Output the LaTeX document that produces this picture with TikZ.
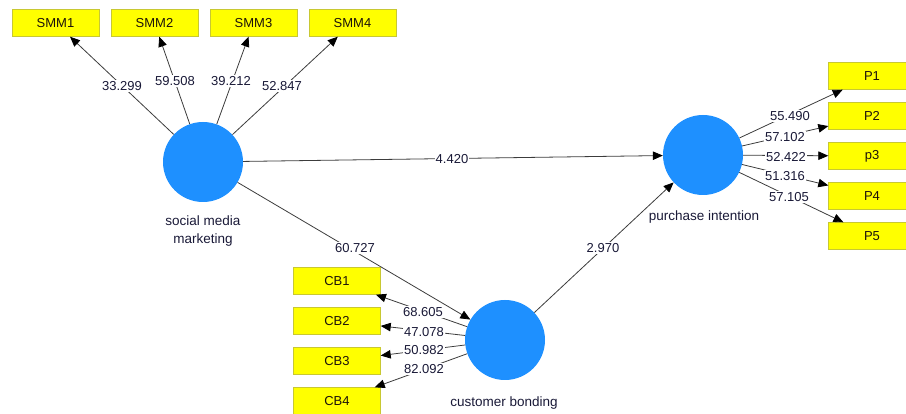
\documentclass[tikz,border=0pt]{standalone}
\usepackage{fontspec}
\setmainfont{Liberation Sans}
\usetikzlibrary{arrows.meta}
\definecolor{lvblue}{RGB}{30,144,255}
\definecolor{mvyellow}{RGB}{255,255,0}
\definecolor{mvborder}{RGB}{200,200,50}
\definecolor{pathgray}{RGB}{60,60,60}
\definecolor{valtext}{RGB}{25,25,55}

\begin{document}
\begin{tikzpicture}[x=1pt,y=-1pt,
    lv/.style={circle,fill=lvblue,minimum size=80pt,inner sep=0pt},
    mv/.style={rectangle,fill=mvyellow,draw=mvborder,minimum width=87pt,minimum height=27pt,inner sep=0pt,font=\fontsize{13}{16}\selectfont,text=black!85!brown},
    lvname/.style={align=center,font=\fontsize{13.5}{18}\selectfont,text=valtext},
    val/.style={fill=white,inner sep=1pt,font=\fontsize{13}{16}\selectfont,text=valtext},
    arr/.style={draw=pathgray,line width=0.8pt,-{Triangle[length=10pt,width=8.5pt,color=black]}}]
    \clip (0,0) rectangle (906,414);
    % latent variables
    \node[lv] (smm) at (203,162) {};
    \node[lv] (pi) at (703,155) {};
    \node[lv] (cb) at (505,340) {};
    \node[lvname] at (203,231) {social media\\marketing};
    \node[lvname] at (704,217) {purchase intention};
    \node[lvname] at (504,403) {customer bonding};
    % indicators
    \foreach \i in {1,...,4}
        \node[mv] (smm\i) at ({-43.5+99*\i},23) {SMM\i};
    \foreach \i/\t in {1/P1,2/P2,3/p3,4/P4,5/P5}
        \node[mv] (p\i) at (872,{36+40*\i}) {\t};
    \foreach \i in {1,...,4}
        \node[mv] (cb\i) at (337,{241+40*\i}) {CB\i};
    % paths
    \foreach \i in {1,...,4} \draw[arr] (smm) -- (smm\i);
    \foreach \i in {1,...,5} \draw[arr] (pi) -- (p\i);
    \foreach \i in {1,...,4} \draw[arr] (cb) -- (cb\i);
    \draw[arr] (smm) -- (pi);
    \draw[arr] (smm) -- (cb);
    \draw[arr] (cb) -- (pi);
    % t values
    \foreach \x/\y/\v in {122/86/33.299, 175/81/59.508, 231/81/39.212, 282/86/52.847,
        790/116/55.490, 785/137/57.102, 786/157/52.422, 785/176/51.316, 789/197/57.105,
        423/312/68.605, 424/332/47.078, 424/350/50.982, 424/369/82.092,
        355/248/60.727, 452/159/4.420, 603/248/2.970}
        \node[val] at (\x,\y) {\v};
\end{tikzpicture}
\end{document}
